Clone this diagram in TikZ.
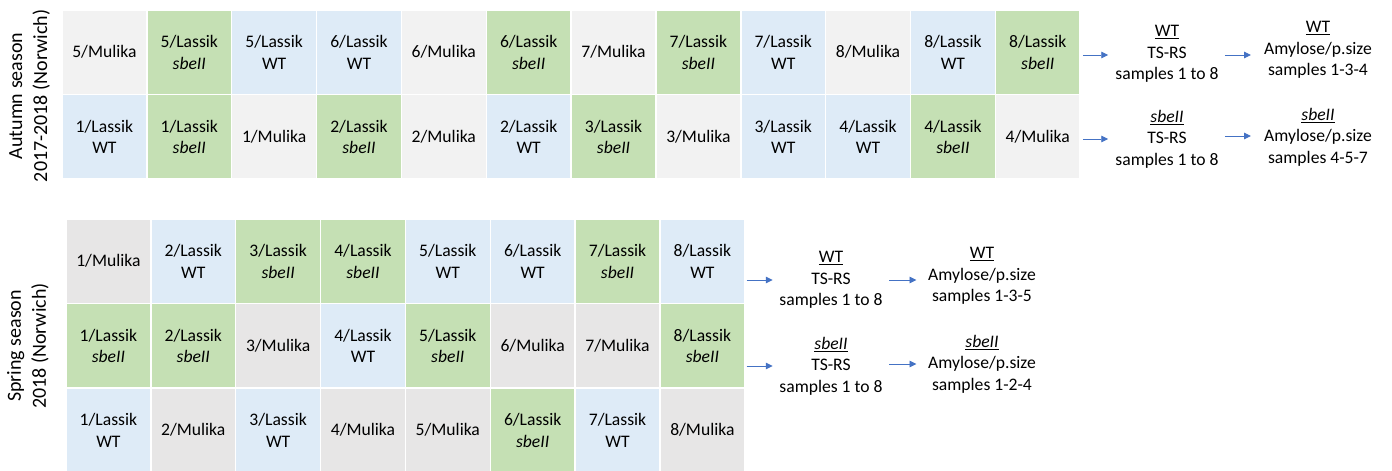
\documentclass[tikz,border=0pt]{standalone}
\usepackage{fontspec}
\setmainfont{Carlito}
\usetikzlibrary{arrows.meta}
\definecolor{cgrey}{HTML}{F2F2F2}
\definecolor{cgreyb}{HTML}{E7E6E6}
\definecolor{cblue}{HTML}{DEEBF7}
\definecolor{cgreen}{HTML}{C5E0B4}
\definecolor{carrow}{HTML}{4472C4}
\newcommand{\sbe}{\textit{sbeII}}
\newcommand{\gcol}{cgrey}
\newcommand\putcell[4]{%
  \if#3M\node[cell,fill=\gcol] (#1) at (#2) {#4/Mulika};\fi
  \if#3W\node[cell,fill=cblue] (#1) at (#2) {#4/Lassik\\WT};\fi
  \if#3S\node[cell,fill=cgreen] (#1) at (#2) {#4/Lassik\\\sbe};\fi}
\begin{document}
\begin{tikzpicture}[x=1pt,y=-1pt,
  cell/.style={draw=white,line width=1.5pt,minimum width=84.85pt,minimum height=84.5pt,
    inner sep=0pt,align=center,font=\fontsize{17.6}{21.5}\selectfont},
  info/.style={inner sep=0pt,align=center,font=\fontsize{17.6}{21.5}\selectfont},
  side/.style={rotate=90,inner sep=0pt,align=center,font=\fontsize{20}{25}\selectfont},
  arr/.style={draw=carrow,line width=0.9pt,-{Triangle[length=7pt,width=6.5pt]}}]
\useasboundingbox (0,0) rectangle (1392,471);
% top grid
\renewcommand{\gcol}{cgrey}
\foreach \t/\n [count=\c] in {M/5,S/5,W/5,W/6,M/6,S/6,M/7,S/7,W/7,M/8,W/8,S/8}
  {\putcell{t1-\c}{{62+84.85*(\c-0.5)},52.25}{\t}{\n}}
\foreach \t/\n [count=\c] in {W/1,S/1,M/1,S/2,M/2,W/2,S/3,M/3,W/3,W/4,S/4,M/4}
  {\putcell{t2-\c}{{62+84.85*(\c-0.5)},136.75}{\t}{\n}}
% bottom grid
\renewcommand{\gcol}{cgreyb}
\foreach \t/\n [count=\c] in {M/1,W/2,S/3,S/4,W/5,W/6,S/7,W/8}
  {\putcell{b1-\c}{{66+84.85*(\c-0.5)},261.25}{\t}{\n}}
\foreach \t/\n [count=\c] in {S/1,S/2,M/3,W/4,S/5,M/6,M/7,S/8}
  {\putcell{b2-\c}{{66+84.85*(\c-0.5)},345.75}{\t}{\n}}
\foreach \t/\n [count=\c] in {W/1,M/2,W/3,M/4,M/5,S/6,W/7,M/8}
  {\putcell{b3-\c}{{66+84.85*(\c-0.5)},430.25}{\t}{\n}}
% side labels
\node[side] (lab1) at (29.5,96) {Autumn season\\2017-2018 (Norwich)};
\node[side] (lab2) at (28,346) {Spring season\\2018 (Norwich)};
% info texts
\node[info] (a1) at (1167,54) {\underline{WT}\\TS-RS\\samples 1 to 8};
\node[info] (c1) at (1318,50) {\underline{WT}\\Amylose/p.size\\samples 1-3-4};
\node[info] (a2) at (1167,139) {\underline{\sbe}\\TS-RS\\samples 1 to 8};
\node[info] (c2) at (1318,137) {\underline{\sbe}\\Amylose/p.size\\samples 4-5-7};
\node[info] (a3) at (831,280) {\underline{WT}\\TS-RS\\samples 1 to 8};
\node[info] (c3) at (982,276) {\underline{WT}\\Amylose/p.size\\samples 1-3-5};
\node[info] (a4) at (831,366) {\underline{\sbe}\\TS-RS\\samples 1 to 8};
\node[info] (c4) at (982,364) {\underline{\sbe}\\Amylose/p.size\\samples 1-2-4};
% arrow start points
\coordinate (p1) at ([xshift=2pt,yshift=-1pt]t1-12.east |- a1.west);
\coordinate (q1) at ([xshift=6pt,yshift=-1pt]a1.east);
\coordinate (p2) at ([xshift=2pt]t2-12.east |- a2.west);
\coordinate (q2) at ([xshift=6pt,yshift=3pt]a2.east);
\coordinate (p3) at ([xshift=1pt]b1-8.east |- a3.west);
\coordinate (q3) at ([xshift=6.5pt]a3.east);
\coordinate (p4) at ([xshift=1pt]b2-8.east |- a4.west);
\coordinate (q4) at ([xshift=6.5pt,yshift=2pt]a4.east);
% arrows
\draw[arr,shorten >=7pt] (p1) -- (p1 -| a1.west);
\draw[arr,shorten >=13pt] (q1) -- (q1 -| c1.west);
\draw[arr,shorten >=7pt] (p2) -- (p2 -| a2.west);
\draw[arr,shorten >=13pt] (q2) -- (q2 -| c2.west);
\draw[arr,shorten >=6.5pt] (p3) -- (p3 -| a3.west);
\draw[arr,shorten >=11.5pt] (q3) -- (q3 -| c3.west);
\draw[arr,shorten >=6.5pt] (p4) -- (p4 -| a4.west);
\draw[arr,shorten >=11.5pt] (q4) -- (q4 -| c4.west);
\end{tikzpicture}
\end{document}
